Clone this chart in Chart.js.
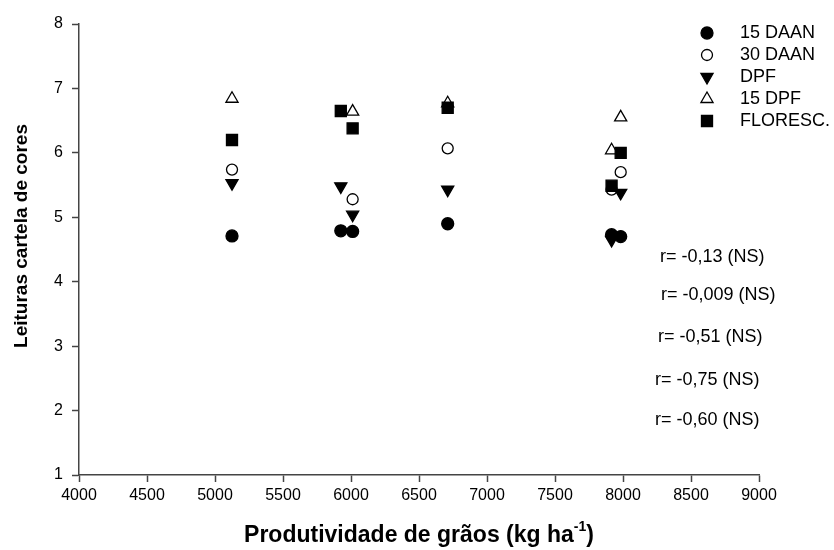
<!DOCTYPE html>
<html>
<head>
<meta charset="utf-8">
<script src="https://cdn.jsdelivr.net/npm/chart.js@4/dist/chart.umd.min.js"></script>
<style>
  html, body { margin: 0; padding: 0; background: #fff; }
  #wrap { width: 834px; height: 550px; position: relative; }
</style>
</head>
<body>
<div id="wrap"><canvas id="myChart" width="834" height="550"></canvas></div>
<script>
// produtividade (kg/ha) x leitura da cartela, por época de avaliação
var daan15X = [5125, 5925, 6012, 6711, 7916, 7983];
var daan15Y = [4.71, 4.79, 4.78, 4.90, 4.73, 4.70];
var daan30X = [5125, 6012, 6711, 7916, 7983];
var daan30Y = [5.74, 5.28, 6.07, 5.43, 5.70];
var dpfX = [5125, 5925, 6012, 6711, 7916, 7983];
var dpfY = [5.53, 5.48, 5.04, 5.43, 4.65, 5.38];
var dpf15X = [5125, 6012, 6711, 7916, 7983];
var dpf15Y = [6.84, 6.64, 6.77, 6.04, 6.55];
var florescX = [5125, 5925, 6012, 6711, 7916, 7983];
var florescY = [6.20, 6.65, 6.38, 6.70, 5.49, 6.00];

var seriesNames = ['15 DAAN', '30 DAAN', 'DPF', '15 DPF', 'FLORESC.'];
var rLabels = ['r= -0,13 (NS)', 'r= -0,009 (NS)', 'r= -0,51 (NS)', 'r= -0,75 (NS)', 'r= -0,60 (NS)'];
var xTicks = [4000, 4500, 5000, 5500, 6000, 6500, 7000, 7500, 8000, 8500, 9000];
var yTicks = [1, 2, 3, 4, 5, 6, 7, 8];

function pts(xs, ys) {
  return xs.map(function (x, i) { return { x: x, y: ys[i] }; });
}

var styles = [
  { pointStyle: 'circle', radius: 6, bg: '#000', rot: 0 },
  { pointStyle: 'circle', radius: 5.5, bg: '#fff', rot: 0 },
  { pointStyle: 'triangle', radius: 7, bg: '#000', rot: 180 },
  { pointStyle: 'triangle', radius: 7, bg: '#fff', rot: 0 },
  { pointStyle: 'rect', radius: 7.8, bg: '#000', rot: 0 }
];
var allData = [pts(daan15X, daan15Y), pts(daan30X, daan30Y), pts(dpfX, dpfY), pts(dpf15X, dpf15Y), pts(florescX, florescY)];

var datasets = seriesNames.map(function (name, i) {
  var s = styles[i];
  return {
    label: name,
    data: allData[i],
    pointStyle: s.pointStyle,
    pointRadius: s.radius,
    pointRotation: s.rot,
    pointBackgroundColor: s.bg,
    pointBorderColor: '#000',
    pointBorderWidth: 1.3,
    showLine: false,
    order: 4 - i // ultimo da lista por cima
  };
});

var FONT = 'Arial, "Liberation Sans", sans-serif';

// legenda, r de cada serie e titulos dos eixos
var extras = {
  id: 'extras',
  afterDraw: function (chart) {
    var c = chart.ctx;
    c.save();
    c.fillStyle = '#000';
    c.font = '18px ' + FONT;
    c.textBaseline = 'middle';
    c.textAlign = 'left';
    seriesNames.forEach(function (name, i) {
      var y = 33 + i * 22;
      var s = styles[i];
      c.fillStyle = s.bg;
      c.strokeStyle = '#000';
      c.lineWidth = 1.3;
      Chart.helpers.drawPoint(c, { pointStyle: s.pointStyle, radius: s.radius, rotation: s.rot, borderWidth: 1.3 }, 707, y);
      c.fillStyle = '#000';
      c.fillText(name, 740, y);
    });

    c.font = '18px ' + FONT;
    var rPos = [[660, 257], [661, 295], [658, 337], [655, 380], [655, 420]];
    rLabels.forEach(function (t, i) { c.fillText(t, rPos[i][0], rPos[i][1]); });

    // titulo do eixo x com expoente
    var a = chart.chartArea;
    var cx = (a.left + a.right) / 2, ty = 536;
    var main = 'Produtividade de grãos (kg ha';
    c.font = 'bold 23px ' + FONT;
    var w1 = c.measureText(main).width;
    var w3 = c.measureText(')').width;
    c.font = 'bold 14px ' + FONT;
    var w2 = c.measureText('-1').width;
    var x0 = cx - (w1 + w2 + w3) / 2;
    c.font = 'bold 23px ' + FONT;
    c.fillText(main, x0, ty);
    c.fillText(')', x0 + w1 + w2, ty);
    c.font = 'bold 14px ' + FONT;
    c.fillText('-1', x0 + w1, ty - 9);

    // titulo do eixo y
    c.translate(22, 236);
    c.rotate(-Math.PI / 2);
    c.textAlign = 'center';
    c.font = 'bold 19px ' + FONT;
    c.fillText('Leituras cartela de cores', 0, 0);
    c.restore();
  }
};

var ctx = document.getElementById('myChart').getContext('2d');
var myChart = new Chart(ctx, {
  type: 'scatter',
  data: { datasets: datasets },
  plugins: [extras],
  options: {
    responsive: false,
    animation: false,
    layout: { padding: { left: 0, top: 24, right: 75, bottom: 0 } },
    plugins: { legend: { display: false }, tooltip: { enabled: false } },
    scales: {
      x: {
        type: 'linear',
        min: 4000, max: 9000,
        afterBuildTicks: function (s) { s.ticks = xTicks.map(function (v) { return { value: v }; }); },
        afterFit: function (s) { s.height = 75; },
        grid: { drawOnChartArea: false, tickLength: 7, color: '#444', tickWidth: 1.5 },
        border: { color: '#444', width: 1.5 },
        ticks: {
          color: '#000', font: { family: FONT, size: 16 }, padding: 4, maxRotation: 0,
          callback: function (v) { return String(v); }
        }
      },
      y: {
        type: 'linear',
        min: 1, max: 8,
        afterBuildTicks: function (s) { s.ticks = yTicks.map(function (v) { return { value: v }; }); },
        afterFit: function (s) { s.width = 79; },
        grid: { drawOnChartArea: false, tickLength: 7, color: '#444', tickWidth: 1.5 },
        border: { color: '#444', width: 1.5 },
        ticks: { color: '#000', font: { family: FONT, size: 16 }, padding: 9 }
      }
    }
  }
});
</script>
</body>
</html>
